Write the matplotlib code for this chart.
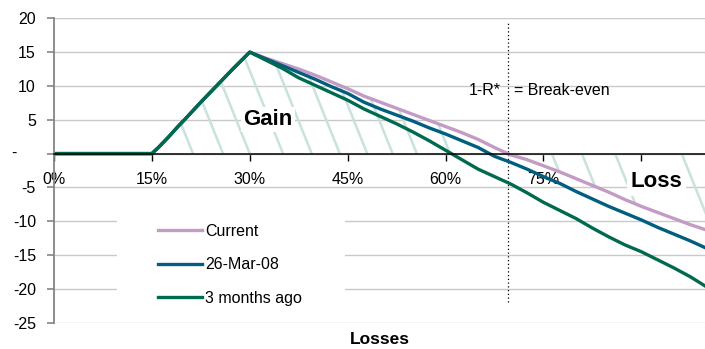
import numpy as np
import matplotlib
matplotlib.use('Agg')
import matplotlib.pyplot as plt
from matplotlib.patches import Rectangle

plt.rcParams['font.family'] = ['Liberation Sans', 'DejaVu Sans']

# payoff vs. portfolio losses (%)
losses = [0, 15, 16, 17.5, 19, 20, 22.5, 25, 27.5, 30, 32.5, 35, 37.5, 40, 42.5, 45, 47.5,
          50, 52.5, 55, 57.5, 60, 62.5, 65, 67.5, 70, 72.5, 75, 77.5, 80, 82.5, 85, 87.5,
          90, 92.5, 95, 97.5, 100]
ramp = [0, 0, 0.9, 2.4, 4.0, 5.0, 7.6, 10.1, 12.6, 15.0]
current = ramp + [14.1, 13.3, 12.5, 11.6, 10.6, 9.6, 8.5, 7.6, 6.7, 5.8, 4.9, 4.0, 3.1, 2.1,
                  0.9, -0.2, -0.9, -1.8, -2.7, -3.7, -4.7, -5.7, -6.8, -7.8, -8.7, -9.6,
                  -10.5, -11.3]
mar_26 = ramp + [14.0, 13.0, 12.0, 11.0, 9.9, 8.9, 7.6, 6.6, 5.7, 4.8, 3.8, 2.9, 1.9, 0.9,
                 -0.4, -1.3, -2.3, -3.4, -4.4, -5.6, -6.7, -7.8, -8.8, -9.8, -10.9, -11.9,
                 -12.9, -14.0]
three_months = ramp + [13.8, 12.6, 11.2, 10.1, 9.0, 7.9, 6.6, 5.5, 4.4, 3.2, 1.9, 0.5, -0.9,
                       -2.3, -3.4, -4.5, -5.8, -7.2, -8.4, -9.6, -11.0, -12.3, -13.5, -14.5,
                       -15.7, -16.9, -18.2, -19.7]
series_names = ['Current', '26-Mar-08', '3 months ago']
x_ticks = [0, 15, 30, 45, 60, 75, 90]
x_labels = ['0%', '15%', '30%', '45%', '60%', '75%', '']
y_ticks = [20, 15, 10, 5, 0, -5, -10, -15, -20, -25]

colors = ['#c39bc5', '#005e7e', '#006a4f']
hatch_color = '#c9e2dd'
grid_color = '#c9c9c9'

# where the diagonal hatch strokes meet the zero line
hatch_base = [21.3, 25.9, 30.0, 35.1, 39.5, 43.8, 48.0, 51.9, 55.6, 60.7,
              76.3, 80.9, 86.0, 96.2]
hatch_slope = 2.4


def hatch_stroke(xb, xs, ys, k):
    # walk from the zero line along the stroke until it reaches the curve
    t = np.linspace(0, 20, 4001)
    if np.interp(xb, xs, ys) > 0:
        hx, hy = xb - t, k * t
        i = np.argmax(hy >= np.interp(hx, xs, ys))
    else:
        hx, hy = xb + t, -k * t
        i = np.argmax(hy <= np.interp(hx, xs, ys))
    return [xb, hx[i]], [0, hy[i]]


x = np.array(losses, dtype=float)
cur = np.array(current, dtype=float)
peak = int(np.argmax(cur))
break_even = np.interp(0, cur[peak:][::-1], x[peak:][::-1])

fig = plt.figure(figsize=(7.05, 3.49), dpi=100)
ax = fig.add_axes([54 / 705, 26.3 / 349, 652.5 / 705, 304.4 / 349])
ax.set_xlim(0, 100)
ax.set_ylim(-25, 20)

ax.spines['top'].set_visible(False)
ax.spines['right'].set_visible(False)
ax.spines['bottom'].set_position(('data', 0))
ax.spines['bottom'].set_color('black')
ax.spines['bottom'].set_linewidth(1.1)
ax.spines['left'].set_color('#858585')
ax.spines['left'].set_linewidth(1.3)

ax.set_axisbelow(True)
ax.yaxis.grid(True, color=grid_color, lw=1.0)

ax.set_xticks(x_ticks)
ax.set_xticklabels(x_labels)
ax.set_yticks(y_ticks)
ax.set_yticklabels(['' if v == 0 else str(v) for v in y_ticks])
ax.text(-0.062, 0, '-', transform=ax.get_yaxis_transform(), ha='center', va='center',
        fontsize=11.5)
ax.tick_params(axis='x', direction='out', length=5, width=1, colors='black',
               labelsize=11.5, pad=8)
ax.tick_params(axis='y', direction='out', length=5, width=1.2, color='#858585',
               labelcolor='black', labelsize=11.5, pad=8)

ax.set_xlabel('Losses', fontsize=12.5, fontweight='bold')
ax.xaxis.set_label_coords(0.5, -0.032)

for xb in hatch_base:
    hx, hy = hatch_stroke(xb, x, cur, hatch_slope)
    ax.plot(hx, hy, color=hatch_color, lw=1.8, zorder=1.8, solid_capstyle='butt')

for ys, name, c in zip([current, mar_26, three_months], series_names, colors):
    ax.plot(losses, ys, color=c, lw=2.4, label=name, zorder=2.2)

ax.axvline(break_even, ymin=0.067, ymax=0.984, color='black', lw=0.9, ls=(0, (1, 2)))
ax.text(break_even - 1.1, 9.4, '1-R*', fontsize=11.5, ha='right', va='center')
ax.text(break_even + 0.9, 9.4, '= Break-even', fontsize=11.5, ha='left', va='center')

ax.text(32.8, 5.0, 'Gain', fontsize=16, fontweight='bold', ha='center', va='center',
        bbox=dict(fc='white', ec='none', pad=1.5), zorder=3)
ax.text(92.3, -4.2, 'Loss', fontsize=16, fontweight='bold', ha='center', va='center',
        bbox=dict(fc='white', ec='none', pad=2.5), zorder=3)

# blank area behind the legend
ax.add_patch(Rectangle((0.0966, 0.022), 0.35, 0.398, transform=ax.transAxes,
                       fc='white', ec='none', zorder=1))
ax.legend(loc='upper left', bbox_to_anchor=(0.159, 0.325), frameon=False,
          borderpad=0, borderaxespad=0, handlelength=2.75, handletextpad=0.2,
          labelspacing=1.15, fontsize=11.5)

fig.savefig('out.png', dpi=100)
